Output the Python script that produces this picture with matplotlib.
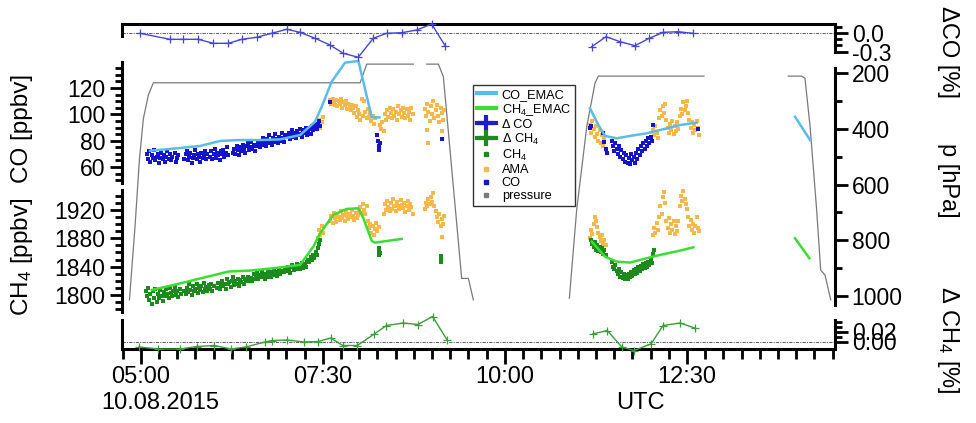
import numpy as np
import matplotlib
matplotlib.use("Agg")
import matplotlib.pyplot as plt
from matplotlib.lines import Line2D
from matplotlib.ticker import FixedLocator

plt.rcParams['font.family'] = ['Liberation Sans', 'DejaVu Sans']
plt.rcParams['mathtext.fontset'] = 'custom'
plt.rcParams['mathtext.rm'] = 'Liberation Sans'
plt.rcParams['mathtext.it'] = 'Liberation Sans:italic'

#%% data, times in minutes after 05:00 UTC
# pressure [hPa] (nan = gap)
p_t = [-9.3, -4.7, -1.1, 2.2, 6.3, 10.4, 180.7, 186.2, 224.6, 230.0, 235.6, 245.2, 249.3, 264.4, 269.9, 274.0,
       300.0,
       353.1, 359.1, 367.4, 374.2, 377.0, 464.0, 500.0, 533.5, 544.5, 547.2, 551.4, 556.8, 560.1, 563.7, 568.4]
p_v = [1014, 751, 512, 363, 279, 235, 235, 168, 168, np.nan, 168, 168, 213, 937, 937, 1014,
       np.nan,
       1008, 692, 393, 237, 211, 211, np.nan, 211, 211, 219, 392, 691, 907, 925, 1014]

# relative differences [%]
dco_t = [-0.6, 24.1, 35.1, 47.4, 59.8, 72.2, 83.2, 95.5, 107.9, 120.3, 131.2, 143.6, 155.9, 166.9, 179.2,
         191.6, 202.6, 215.0, 227.3, 239.7, 250.7,
         300.0,
         371.5, 383.3, 394.8, 407.2, 418.9, 430.5, 442.8, 454.7]
dco_v = [0.0, -0.099, -0.099, -0.099, -0.165, -0.165, -0.099, -0.066, 0.0, 0.066, 0.016, -0.082, -0.193,
         -0.33, -0.395, -0.082, 0.0, 0.01, 0.054, 0.153, -0.204,
         np.nan,
         -0.221, -0.056, -0.138, -0.204, -0.082, 0.016, 0.026, 0.0]
dch4_t = [-1.6, 14.5, 32.5, 46.4, 60.5, 74.5, 86.4, 102.4, 108.4, 120.4, 134.4, 146.4, 156.4, 166.4, 178.4,
          192.4, 202.4, 216.4, 228.4, 240.4, 252.4,
          300.0,
          372.3, 384.3, 396.3, 406.3, 420.3, 430.3, 444.3, 456.3]
dch4_v = [-0.011, -0.015, -0.015, -0.010, -0.008, -0.015, -0.011, -0.001, 0.002, 0.003, -0.001, 0.0, 0.007,
          -0.008, -0.008, 0.015, 0.032, 0.037, 0.034, 0.050, 0.003,
          np.nan,
          0.015, 0.022, -0.011, -0.018, -0.005, 0.032, 0.037, 0.027]

# EMAC model [ppbv]
co_emac_t = [7.7, 29.7, 48.9, 65.4, 81.8, 98.3, 114.8, 131.3, 143.6, 149.1, 157.3, 168.3, 179.3, 190.3, 196.6,
             300.0,
             370.1, 377.0, 382.5, 392.1, 403.1, 416.8, 427.8, 444.3, 458.0,
             500.0,
             539.0, 551.4]
co_emac_v = [72.4, 74.2, 76.0, 79.8, 80.5, 80.5, 81.0, 84.3, 94.4, 105.8, 124.8, 139.2, 140.5, 97.7, 97.7,
             np.nan,
             104.6, 91.9, 83.6, 81.8, 83.6, 85.6, 88.1, 91.9, 93.7,
             np.nan,
             98.2, 80.5]
ch4_emac_t = [9.1, 35.2, 72.2, 90.1, 109.3, 131.3, 142.2, 147.7, 158.7, 169.7, 179.3, 183.4, 190.3, 193.0, 215.0,
              300.0,
              371.5, 382.5, 392.1, 403.1, 416.8, 427.8, 444.3, 455.3,
              500.0,
              539.0, 550.8]
ch4_emac_v = [1807.0, 1817.4, 1833.0, 1834.4, 1837.7, 1842.4, 1868.3, 1887.1, 1913.0, 1921.5, 1922.4, 1908.3,
              1876.3, 1873.9, 1879.1,
              np.nan,
              1875.3, 1854.1, 1847.1, 1845.7, 1851.8, 1856.5, 1862.6, 1867.3,
              np.nan,
              1880.0, 1851.8]

# in-situ CO [ppbv] (minute, value)
co_pts = [(5, 70), (6, 66), (7, 72), (8, 64), (9, 69), (10, 67), (11, 73), (12, 65), (13, 68), (14, 70),
          (15, 63), (16, 67), (17, 71), (18, 66), (19, 69), (20, 64), (21, 68), (22, 72), (23, 66), (24, 70),
          (25, 65), (26, 68), (28, 71), (29, 64), (30, 67), (31, 69),
          (36, 66), (37, 70), (38, 72), (39, 65), (40, 68), (41, 71), (42, 63), (43, 67), (44, 69), (45, 73),
          (46, 66), (47, 70), (48, 68), (49, 64), (50, 71), (51, 67), (52, 69), (53, 72), (54, 66), (55, 70),
          (57, 68), (58, 72), (59, 66), (60, 70), (61, 74), (62, 67), (63, 71), (64, 69), (65, 65), (66, 72),
          (67, 70), (68, 73), (69, 68), (70, 71), (71, 75), (72, 69),
          (76, 71), (77, 74), (78, 70), (79, 76), (80, 73), (81, 69), (82, 75), (83, 72), (84, 77), (85, 74),
          (86, 71), (87, 76), (88, 78), (89, 73), (90, 75), (91, 79), (92, 74), (93, 77), (94, 72), (95, 76),
          (97, 78), (98, 75), (99, 80), (100, 77), (101, 82), (102, 79), (103, 76), (104, 81), (105, 78),
          (106, 84), (107, 80), (108, 77), (109, 82), (110, 79), (111, 85), (112, 81), (113, 78), (114, 83),
          (115, 80), (116, 86), (117, 82), (118, 79), (119, 84),
          (121, 83), (122, 86), (123, 81), (124, 85), (125, 88), (126, 83), (127, 86), (128, 82), (129, 87),
          (130, 84), (131, 89), (132, 85), (133, 83), (134, 88), (135, 86), (136, 90), (137, 84), (138, 87),
          (139, 89), (140, 85), (141, 91), (142, 88), (143, 90), (144, 93), (145, 89), (146, 92), (147, 95),
          (148, 91),
          (156, 109), (195, 84), (195.5, 80), (196, 76), (196.5, 73), (197, 78), (248, 81),
          (370, 90), (371, 91), (381, 86), (382, 79), (383, 74), (384, 71),
          (388, 80), (389, 76), (390, 72), (391, 78), (392, 74), (393, 70), (394, 76), (395, 68), (396, 73),
          (397, 66), (398, 71), (399, 64), (400, 69), (401, 63), (402, 67), (403, 62), (404, 70), (405, 65),
          (406, 68), (407, 63), (408, 71), (409, 66), (410, 74), (411, 69), (412, 76), (413, 72), (414, 78),
          (415, 74), (416, 80), (417, 76), (418, 82), (419, 78), (420, 83), (421, 80), (422, 92), (459.4, 89)]

# in-situ CH4 [ppbv]
ch4_pts = [(4, 1806), (5, 1798), (6, 1810), (7, 1793), (8, 1802), (9, 1787), (10, 1805), (11, 1796),
           (12, 1809), (13, 1790), (14, 1801), (15, 1795), (16, 1807), (17, 1799), (18, 1792), (19, 1804),
           (20, 1798), (21, 1808), (22, 1801), (23, 1796), (24, 1810), (25, 1803), (26, 1799), (27, 1806),
           (28, 1811), (29, 1800), (30, 1805), (31, 1797), (32, 1808), (33, 1802),
           (36, 1806), (37, 1801), (38, 1810), (39, 1804), (40, 1815), (41, 1807), (42, 1800), (43, 1812),
           (44, 1805), (45, 1809), (46, 1816), (47, 1803), (48, 1810), (49, 1807), (50, 1813), (51, 1804),
           (52, 1817), (53, 1808), (54, 1811), (55, 1806), (56, 1814), (57, 1809), (58, 1816), (59, 1805),
           (60, 1812),
           (63, 1810), (64, 1817), (65, 1808), (66, 1814), (67, 1820), (68, 1812), (69, 1816), (70, 1809),
           (71, 1822), (72, 1815), (73, 1818), (74, 1811), (75, 1820), (76, 1825), (77, 1814), (78, 1819),
           (79, 1816), (80, 1823), (81, 1813), (82, 1821), (83, 1818), (84, 1825), (85, 1816), (86, 1822),
           (87, 1819), (88, 1826), (89, 1820),
           (91, 1824), (92, 1820), (93, 1829), (94, 1822), (95, 1826), (96, 1831), (97, 1823), (98, 1828),
           (99, 1825), (100, 1833), (101, 1827), (102, 1822), (103, 1830), (104, 1826), (105, 1834),
           (106, 1829), (107, 1825), (108, 1832), (109, 1828), (110, 1835), (111, 1830), (112, 1827),
           (113, 1833), (114, 1836), (115, 1829), (116, 1834),
           (118, 1832), (119, 1838), (120, 1834), (121, 1840), (122, 1836), (123, 1831), (124, 1839),
           (125, 1842), (126, 1835), (127, 1840), (128, 1837), (129, 1844), (130, 1839), (131, 1836),
           (132, 1842), (133, 1845), (134, 1838), (135, 1843), (136, 1840),
           (137, 1846), (138, 1850), (139, 1847), (140, 1853), (141, 1849), (142, 1856), (143, 1852),
           (144, 1860), (145, 1857), (146, 1866), (147, 1872), (148, 1877),
           (196, 1856), (196.3, 1862), (196.6, 1866), (197, 1859), (247, 1851), (247.3, 1846), (247.6, 1855),
           (371, 1877), (372, 1872), (373, 1868), (374, 1875), (375, 1864), (376, 1870), (377, 1862),
           (378, 1868), (379, 1860), (380, 1866), (381, 1858), (382, 1864), (383, 1856),
           (388, 1846), (389, 1840), (390, 1836), (391, 1842), (392, 1834), (393, 1829), (394, 1836),
           (395, 1826), (396, 1832), (397, 1824), (398, 1830), (399, 1822), (400, 1828), (401, 1823),
           (402, 1830), (403, 1825), (404, 1833), (405, 1827), (406, 1835), (407, 1829), (408, 1837),
           (409, 1831), (410, 1839), (411, 1834), (412, 1841), (413, 1836), (414, 1843), (415, 1838),
           (416, 1845), (417, 1840), (418, 1847), (419, 1842), (420, 1850), (421, 1845), (422, 1858),
           (422.5, 1863)]

# AMA CO [ppbv]
ama_co_pts = [(146, 92), (147, 96), (148, 90), (149, 94), (150, 98),
              (156, 111), (157, 108), (158, 112), (159, 109), (160, 107), (161, 111), (162, 106), (163, 110),
              (164, 108), (165, 112), (166, 105), (167, 109), (168, 107), (169, 110), (170, 104), (171, 108),
              (172, 106), (173, 103), (174, 107), (175, 105),
              (176, 101), (177, 106), (178, 98), (179, 103), (180, 100), (181, 96), (182, 112), (183, 99),
              (184, 110), (185, 102), (186, 97),
              (187, 104), (188, 98), (189, 101), (190, 95), (191, 99), (192, 93), (193, 97),
              (197, 92), (198, 89), (199, 94), (200, 87),
              (201, 100), (202, 96), (203, 103), (204, 98), (205, 105), (206, 101), (207, 97), (208, 104),
              (209, 99), (210, 102), (211, 96), (212, 106), (213, 100), (214, 103), (215, 98), (216, 105),
              (217, 101), (218, 97), (219, 104), (220, 99), (221, 102), (222, 96), (223, 105), (224, 100),
              (234, 104), (235, 99), (236, 108), (237, 102), (238, 95), (239, 106), (240, 100), (241, 110),
              (242, 97), (243, 103), (244, 107), (245, 99), (246, 94), (247, 105), (248, 101), (249, 96),
              (250, 103), (235.6, 88), (237, 78), (248, 87.6),
              (370, 92), (371, 86), (372, 95), (373, 89), (374, 83), (375, 91), (376, 85), (377, 80),
              (378, 88), (379, 78), (380, 84), (381, 76), (382, 82), (383, 73),
              (422, 88), (423, 84), (424, 91), (425, 86), (426, 82), (427, 97), (428, 103), (429, 99),
              (430, 106), (431, 101), (432, 108), (433, 96), (434, 90), (435, 86), (436, 93), (437, 88),
              (438, 95), (439, 85), (440, 91), (441, 87), (442, 94), (443, 89), (444, 99), (445, 104),
              (446, 100), (447, 109), (448, 103), (449, 106), (450, 110), (451, 101), (452, 96), (453, 90),
              (454, 94), (455, 86), (456, 92), (457, 88), (458, 95), (459, 90), (460, 84)]

# AMA CH4 [ppbv]
ama_ch4_pts = [(146, 1880), (147, 1892), (148, 1885), (149, 1898), (150, 1888),
               (156, 1905), (157, 1912), (158, 1902), (159, 1916), (160, 1908), (161, 1903), (162, 1914),
               (163, 1910), (164, 1906), (165, 1918), (166, 1909), (167, 1913), (168, 1904), (169, 1917),
               (170, 1911), (171, 1907), (172, 1915), (173, 1910), (174, 1920), (175, 1912), (176, 1906),
               (177, 1916), (178, 1909), (179, 1913), (180, 1918),
               (181, 1924), (182, 1916), (183, 1928), (184, 1920), (185, 1914), (186, 1925),
               (187, 1905), (188, 1895), (189, 1900), (190, 1888), (191, 1897), (192, 1884), (193, 1893),
               (194, 1902), (195, 1890), (196, 1896),
               (200, 1915), (201, 1928), (202, 1920), (203, 1933), (204, 1924), (205, 1918), (206, 1930),
               (207, 1922), (208, 1936), (209, 1926), (210, 1919), (211, 1931), (212, 1925), (213, 1921),
               (214, 1934), (215, 1927), (216, 1923), (217, 1930), (218, 1917), (219, 1926), (220, 1932),
               (221, 1920), (222, 1928), (223, 1924), (224, 1915),
               (234, 1922), (235, 1930), (236, 1926), (237, 1935), (238, 1928), (239, 1938), (240, 1931),
               (241, 1944), (242, 1925), (243, 1918), (244, 1910), (245, 1903), (246, 1915), (247, 1898),
               (248, 1907), (249, 1900), (250, 1912), (248.5, 1882),
               (370, 1880), (371, 1892), (372, 1886), (373, 1900), (374, 1910), (375, 1904), (376, 1896),
               (377, 1888), (378, 1882), (379, 1876), (380, 1884), (381, 1872), (382, 1878), (383, 1870),
               (422, 1885), (423, 1895), (424, 1888), (425, 1902), (426, 1892), (427, 1910), (428, 1925),
               (429, 1915), (430, 1938), (431, 1946), (432, 1930), (433, 1905), (434, 1895), (435, 1908),
               (436, 1888), (437, 1900), (438, 1892), (439, 1904), (440, 1886), (441, 1898), (442, 1890),
               (443, 1905), (444, 1925), (445, 1940), (446, 1932), (447, 1947), (448, 1936), (449, 1928),
               (450, 1921), (451, 1910), (452, 1898), (453, 1906), (454, 1892), (455, 1900), (456, 1888),
               (457, 1897), (458, 1910), (459, 1895), (460, 1890)]

xticks = [5.0, 7.5, 10.0, 12.5]
xticklabels = ['05:00', '07:30', '10:00', '12:30']

#%% colours
c_co_emac = '#5BBCEB'
c_ch4_emac = '#3CDD33'
c_dco = '#4747D6'
c_dch4 = '#3A9E3A'
c_co = '#1414CC'
c_ch4 = '#1C8A1C'
c_ama = '#F8B849'
c_p = '#7A7A7A'


def hrs(m):
    return 5 + np.asarray(m, dtype=float) / 60.0


def unzip(pts):
    a = np.array(pts, dtype=float)
    return hrs(a[:, 0]), a[:, 1]


W, H = 976, 423


def box(x0, y0, x1, y1):
    return [x0 / W, 1 - y1 / H, (x1 - x0) / W, (y1 - y0) / H]


XL = (4.743, 14.532)
fig = plt.figure(figsize=(W / 100, H / 100), dpi=100)

ax0 = fig.add_axes(box(122, 24, 835, 349))
ax0.set_xlim(XL)
ax0.set_ylim(0, 1)
ax0.patch.set_visible(False)
ax0.spines['left'].set_visible(False)
ax0.spines['right'].set_visible(False)
ax0.spines['top'].set_linewidth(2.2)
ax0.spines['bottom'].set_linewidth(2.2)
ax0.set_yticks([])
ax0.set_xticks(xticks)
ax0.set_xticklabels(xticklabels)
ax0.xaxis.set_minor_locator(FixedLocator(np.arange(4.75, 14.6, 0.25)))
ax0.tick_params(axis='x', which='major', length=11, width=2, labelsize=17, pad=1)
ax0.tick_params(axis='x', which='minor', length=7, width=2)


def overlay(rect, ylim):
    a = fig.add_axes(rect)
    a.set_xlim(XL)
    a.set_ylim(ylim)
    a.patch.set_visible(False)
    for s in a.spines.values():
        s.set_visible(False)
    a.set_xticks([])
    return a


def yaxis_style(a, side, bounds, major, labels, minor):
    sp = a.spines[side]
    sp.set_visible(True)
    sp.set_linewidth(2.2)
    sp.set_bounds(*bounds)
    if side == 'right':
        a.yaxis.tick_right()
    else:
        a.yaxis.tick_left()
    a.yaxis.set_major_locator(FixedLocator(major))
    a.set_yticklabels(labels)
    a.yaxis.set_minor_locator(FixedLocator(minor))
    a.tick_params(axis='y', which='major', length=9, width=2, labelsize=16.5, pad=3)
    a.tick_params(axis='y', which='minor', length=5, width=2)


# pressure
ax_p = overlay(box(122, 58, 835, 306), (1036, 146))
yaxis_style(ax_p, 'right', (183, 1032), [200, 400, 600, 800, 1000],
            ['200', '400', '600', '800', '1000'], [300, 500, 700, 900])
ax_p.plot(hrs(p_t), p_v, color=c_p, lw=0.9)

# CO
ax_co = overlay(box(122, 62, 835, 183), (47.9, 139.7))
yaxis_style(ax_co, 'left', (47.9, 139.7), [60, 80, 100, 120], ['60', '80', '100', '120'],
            [50, 55, 65, 70, 75, 85, 90, 95, 105, 110, 115, 125, 130, 135])
tx, vy = unzip(ama_co_pts)
ax_co.plot(tx, vy, ls='none', marker='s', ms=2.9, mew=0, color=c_ama, clip_on=False)
tx, vy = unzip(co_pts)
ax_co.plot(tx, vy, ls='none', marker='s', ms=2.9, mew=0, color=c_co, clip_on=False)
ax_co.plot(hrs(co_emac_t), co_emac_v, color=c_co_emac, lw=1.8, clip_on=False)

# CH4
ax_ch4 = overlay(box(122, 190, 835, 312), (1775.9, 1948.2))
yaxis_style(ax_ch4, 'left', (1775.9, 1948.2), [1800, 1840, 1880, 1920], ['1800', '1840', '1880', '1920'],
            [1780, 1790, 1810, 1820, 1830, 1850, 1860, 1870, 1890, 1900, 1910, 1930, 1940])
tx, vy = unzip(ama_ch4_pts)
ax_ch4.plot(tx, vy, ls='none', marker='s', ms=2.9, mew=0, color=c_ama, clip_on=False)
tx, vy = unzip(ch4_pts)
ax_ch4.plot(tx, vy, ls='none', marker='s', ms=2.9, mew=0, color=c_ch4, clip_on=False)
ax_ch4.plot(hrs(ch4_emac_t), ch4_emac_v, color=c_ch4_emac, lw=1.8, clip_on=False)

# delta CO
ax_dco = overlay(box(122, 24, 835, 58), (-0.407, 0.153))
yaxis_style(ax_dco, 'right', (-0.31, 0.153), [0.0, -0.3], ['0.0', '-0.3'], [0.1, -0.1, -0.2])
ax_dco.spines['left'].set_visible(True)
ax_dco.spines['left'].set_linewidth(2.2)
ax_dco.spines['left'].set_bounds(-0.045, 0.153)
ax_dco.axhline(0, color='#666666', lw=0.8, ls=(0, (3, 1, 1, 1)))
ax_dco.plot(hrs(dco_t), dco_v, color=c_dco, lw=1.0, marker='+', ms=6, mew=0.9, clip_on=False)

# delta CH4
ax_dch4 = overlay(box(122, 316, 835, 349), (-0.015, 0.051))
yaxis_style(ax_dch4, 'right', (-0.015, 0.044), [0.0, 0.02], ['0.00', '0.02'], [0.01, 0.03, 0.04])
ax_dch4.spines['left'].set_visible(True)
ax_dch4.spines['left'].set_linewidth(2.2)
ax_dch4.spines['left'].set_bounds(-0.015, 0.043)
ax_dch4.axhline(0, color='#666666', lw=0.8, ls=(0, (3, 1, 1, 1)))
ax_dch4.plot(hrs(dch4_t), dch4_v, color=c_dch4, lw=1.0, marker='+', ms=6, mew=0.9, clip_on=False)

# axis labels
fig.text(22 / W, 1 - 128 / H, 'CO [ppbv]', rotation=90, ha='center', va='center', fontsize=17.5)
fig.text(22 / W, 1 - 257 / H, 'CH$_4$ [ppbv]', rotation=90, ha='center', va='center', fontsize=17.5)
fig.text(948 / W, 1 - 52 / H, 'ΔCO [%]', rotation=270, ha='center', va='center', fontsize=17)
fig.text(948 / W, 1 - 180 / H, 'p [hPa]', rotation=270, ha='center', va='center', fontsize=17)
fig.text(948 / W, 1 - 340 / H, 'Δ CH$_4$ [%]', rotation=270, ha='center', va='center', fontsize=17)
fig.text(101 / W, 1 - 403 / H, '10.08.2015', ha='left', va='center', fontsize=17)
fig.text(640 / W, 1 - 403 / H, 'UTC', ha='center', va='center', fontsize=17)

# legend
handles = [Line2D([], [], color=c_co_emac, lw=3),
           Line2D([], [], color=c_ch4_emac, lw=3),
           Line2D([], [], color='#1E1EC8', lw=3, marker='+', ms=11, mew=3),
           Line2D([], [], color='#1E8A1E', lw=3, marker='+', ms=11, mew=3),
           Line2D([], [], ls='none', color=c_ch4, marker='s', ms=3),
           Line2D([], [], ls='none', color=c_ama, marker='s', ms=3),
           Line2D([], [], ls='none', color=c_co, marker='s', ms=3),
           Line2D([], [], ls='none', color=c_p, marker='s', ms=3)]
labels = ['CO_EMAC', 'CH$_4$_EMAC', 'Δ CO', 'Δ CH$_4$', 'CH$_4$', 'AMA', 'CO', 'pressure']
leg = fig.legend(handles, labels, loc='upper left', bbox_to_anchor=(473 / W, 1 - 85 / H),
                 frameon=True, fancybox=False, edgecolor='black', fontsize=9.2, handlelength=1.5,
                 labelspacing=0.08, borderpad=0.3, handletextpad=0.45, borderaxespad=0)
leg.get_frame().set_linewidth(1.0)

fig.savefig('out.png', dpi=100)
